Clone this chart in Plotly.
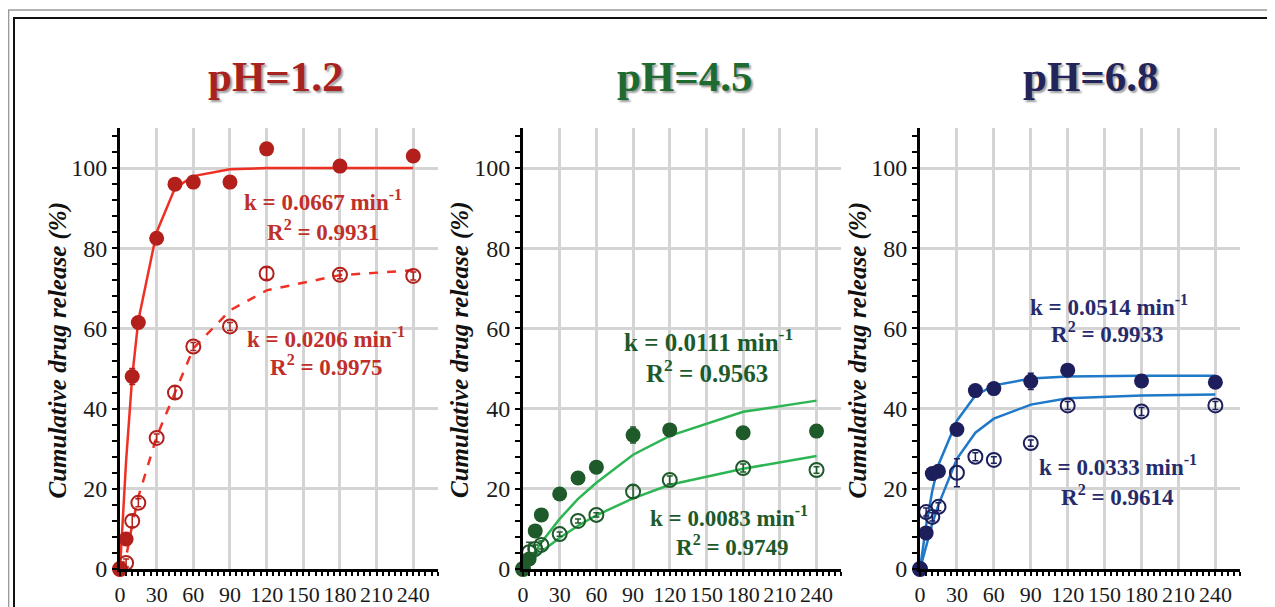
import plotly.graph_objects as go

# ---------------- data ----------------
time_min = [0, 5, 10, 15, 30, 45, 60, 90, 120, 180, 240]

ph12_fast = [0, 7.5, 48, 61.5, 82.5, 96, 96.5, 96.5, 104.8, 100.5, 103]
ph12_fast_err = [0, 1, 2, 0.5, 1, 1, 1, 1, 1, 1, 1]
ph12_slow = [0, 1.5, 12, 16.5, 32.7, 44, 55.5, 60.5, 73.7, 73.4, 73.1]
ph12_slow_err = [0, 1, 1.5, 1, 1, 1.5, 1, 1, 1.5, 1, 1]
ph12_fit_fast = [0, 27, 48, 62, 84, 95, 98, 99.7, 100, 100, 100]
ph12_fit_slow = [0, 3, 11, 18, 33, 44, 55, 64.5, 69.5, 73.3, 74.5]

ph45_fast = [0, 2.5, 9.5, 13.5, 18.7, 22.7, 25.4, 33.4, 34.7, 34, 34.4]
ph45_fast_err = [0, 0.5, 1, 1.5, 0.5, 0.5, 0.5, 2, 0.5, 1.5, 0.5]
ph45_slow = [0, 4.2, 5, 6, 8.7, 12, 13.5, 19.3, 22.2, 25.2, 24.7]
ph45_slow_err = [0, 2.5, 1, 1, 0.5, 0.5, 0.5, 1.5, 1, 1, 0.8]
ph45_fit_fast = [0, 2.3, 4.5, 6.6, 12.5, 17.5, 21.5, 28.5, 33.2, 39.2, 42]
ph45_fit_slow = [0, 1.6, 3, 4.3, 7.8, 10.8, 13.4, 17.6, 21, 25, 28.2]

ph68_fast = [0, 9, 23.8, 24.4, 34.8, 44.5, 45, 46.8, 49.6, 46.9, 46.6]
ph68_fast_err = [0, 0.5, 0.5, 0.5, 0.5, 0.5, 0.5, 2, 0.5, 1.5, 0.5]
ph68_slow = [0, 14.2, 13, 15.5, 24, 28, 27.2, 31.4, 40.8, 39.3, 40.8]
ph68_slow_err = [0, 1, 1, 1, 3.5, 1, 0.8, 0.8, 1, 1, 1]
ph68_fit_fast = [0, 10.9, 19.5, 26, 37, 43.3, 45.8, 47.5, 48, 48.2, 48.2]
ph68_fit_slow = [0, 6, 11.3, 16, 27.5, 34, 37.5, 41, 42.6, 43.3, 43.5]

x_ticks = [0, 30, 60, 90, 120, 150, 180, 210, 240]
y_ticks = [0, 20, 40, 60, 80, 100]

# ---------------- page geometry (page body has an 8px margin) ----------------
OFF = 8
W, H = 1275 - OFF, 607 - OFF


def PX(x):
    return (x - OFF) / W


def PY(y):
    return 1 - (y - OFF) / H


panels = [
    dict(title="pH=1.2", fast=ph12_fast, fast_err=ph12_fast_err, slow=ph12_slow,
         slow_err=ph12_slow_err, fit_fast=ph12_fit_fast, fit_slow=ph12_fit_slow,
         marker="#B3201C", line="#EE3124", text="#C0302A", title_color="#A8231F",
         slow_dash="dash",
         notes=[("k = 0.0667 min<sup>-1</sup>", 166.5, 92.0, 23), ("R<sup>2</sup> = 0.9931", 166.5, 84.4, 23),
                ("k = 0.0206 min<sup>-1</sup>", 168.5, 57.8, 23), ("R<sup>2</sup> = 0.9975", 169.3, 50.8, 23)],
         domain=[PX(120), PX(437.7)], title_x=PX(276), ytitle_x=PX(57.5)),
    dict(title="pH=4.5", fast=ph45_fast, fast_err=ph45_fast_err, slow=ph45_slow,
         slow_err=ph45_slow_err, fit_fast=ph45_fit_fast, fit_slow=ph45_fit_slow,
         marker="#1E5A2A", line="#2DB553", text="#1D5A2B", title_color="#1E6A30",
         slow_dash="solid",
         notes=[("k = 0.0111 min<sup>-1</sup>", 151.3, 57.1, 25), ("R<sup>2</sup> = 0.9563", 150.6, 49.4, 25),
                ("k = 0.0083 min<sup>-1</sup>", 168.7, 13.1, 23), ("R<sup>2</sup> = 0.9749", 170.9, 5.8, 23)],
         domain=[PX(523), PX(841)], title_x=PX(685), ytitle_x=PX(460)),
    dict(title="pH=6.8", fast=ph68_fast, fast_err=ph68_fast_err, slow=ph68_slow,
         slow_err=ph68_slow_err, fit_fast=ph68_fit_fast, fit_slow=ph68_fit_slow,
         marker="#1C1F5C", line="#1F78C8", text="#272B6B", title_color="#22245A",
         slow_dash="solid",
         notes=[("k = 0.0514 min<sup>-1</sup>", 153.6, 65.8, 23), ("R<sup>2</sup> = 0.9933", 152.7, 58.9, 23),
                ("k = 0.0333 min<sup>-1</sup>", 160.8, 25.7, 23), ("R<sup>2</sup> = 0.9614", 160.8, 18.4, 23)],
         domain=[PX(920), PX(1240)], title_x=PX(1091), ytitle_x=PX(857.5)),
]

SERIF = "Liberation Serif, Times New Roman, serif"
y_domain = [PY(569), PY(128)]

fig = go.Figure()
annotations = []
layout_axes = {}

for i, p in enumerate(panels):
    n = "" if i == 0 else str(i + 1)
    xa, ya = "x" + n, "y" + n
    # fitted curves
    fig.add_trace(go.Scatter(x=time_min, y=p["fit_fast"], mode="lines",
                             line=dict(color=p["line"], width=2.5), xaxis=xa, yaxis=ya,
                             showlegend=False, hoverinfo="skip"))
    fig.add_trace(go.Scatter(x=time_min, y=p["fit_slow"], mode="lines",
                             line=dict(color=p["line"], width=2.5, dash=p["slow_dash"]),
                             xaxis=xa, yaxis=ya, showlegend=False, hoverinfo="skip"))
    # open markers
    fig.add_trace(go.Scatter(x=time_min, y=p["slow"], mode="markers",
                             marker=dict(symbol="circle-open", size=14, color=p["marker"],
                                         line=dict(width=2, color=p["marker"])),
                             error_y=dict(type="data", array=p["slow_err"], color=p["marker"],
                                          thickness=1.5, width=3),
                             cliponaxis=False, xaxis=xa, yaxis=ya, showlegend=False))
    # filled markers
    fig.add_trace(go.Scatter(x=time_min, y=p["fast"], mode="markers",
                             marker=dict(symbol="circle", size=15, color=p["marker"]),
                             error_y=dict(type="data", array=p["fast_err"], color=p["marker"],
                                          thickness=1.5, width=3),
                             cliponaxis=False, xaxis=xa, yaxis=ya, showlegend=False))

    layout_axes["xaxis" + n] = dict(
        domain=p["domain"], range=[0, 260], anchor=ya, automargin=False,
        tickmode="array", tickvals=x_ticks, ticktext=[str(v) for v in x_ticks],
        showgrid=True, gridcolor="#D4D4D4", gridwidth=2.5,
        showline=True, linecolor="black", linewidth=3,
        ticks="outside", ticklen=4, tickwidth=1.5, tickcolor="black",
        minor=dict(dtick=5, tick0=0, ticks="outside", ticklen=4, tickwidth=1.5,
                   tickcolor="black", showgrid=False),
        tickfont=dict(family=SERIF, size=22, color="#1a1a1a"),
        zeroline=False, fixedrange=True,
    )
    layout_axes["yaxis" + n] = dict(
        domain=y_domain, range=[0, 110], anchor=xa, automargin=False,
        tickmode="array", tickvals=y_ticks, ticktext=[str(v) for v in y_ticks],
        showgrid=True, gridcolor="#D4D4D4", gridwidth=2.5,
        showline=True, linecolor="black", linewidth=3,
        ticks="outside", ticklen=5, tickwidth=1.5, tickcolor="black",
        minor=dict(dtick=4, tick0=0, ticks="outside", ticklen=5, tickwidth=1.5,
                   tickcolor="black", showgrid=False),
        tickfont=dict(family=SERIF, size=24, color="#1a1a1a"),
        zeroline=False, fixedrange=True,
    )

    # panel title (with a soft drop shadow like the reference)
    annotations.append(dict(text="<b>" + p["title"] + "</b>", x=p["title_x"], y=PY(77),
                            xref="paper", yref="paper", showarrow=False, xanchor="center",
                            yanchor="middle",
                            font=dict(family=SERIF, size=43, color=p["title_color"],
                                      shadow="2px 2px 2px #9C9C9C")))
    # y axis title
    annotations.append(dict(text="<b><i>Cumulative drug release (%)</i></b>", x=p["ytitle_x"],
                            y=PY(350), xref="paper", yref="paper", textangle=-90,
                            showarrow=False, xanchor="center", yanchor="middle",
                            font=dict(family=SERIF, size=25, color="#111111")))
    # k / R^2 notes
    for txt, xv, yv, fs in p["notes"]:
        annotations.append(dict(text="<b>" + txt + "</b>", x=xv, y=yv, xref=xa, yref=ya,
                                showarrow=False, xanchor="center", yanchor="middle",
                                font=dict(family=SERIF, size=fs, color=p["text"])))

shapes = [
    dict(type="rect", xref="paper", yref="paper", x0=PX(8.6), x1=1.02, y0=-0.05, y1=PY(10),
         line=dict(color="#9A9A9A", width=1.5), layer="below"),
    dict(type="rect", xref="paper", yref="paper", x0=PX(14), x1=1.02, y0=-0.05, y1=PY(18),
         line=dict(color="#111111", width=2), layer="below"),
]

fig.update_layout(
    template="none",
    width=W, height=H,
    margin=dict(l=0, r=0, t=0, b=0),
    paper_bgcolor="white", plot_bgcolor="white",
    annotations=annotations, shapes=shapes,
    showlegend=False,
    **layout_axes,
)

fig.write_html("out.html")
